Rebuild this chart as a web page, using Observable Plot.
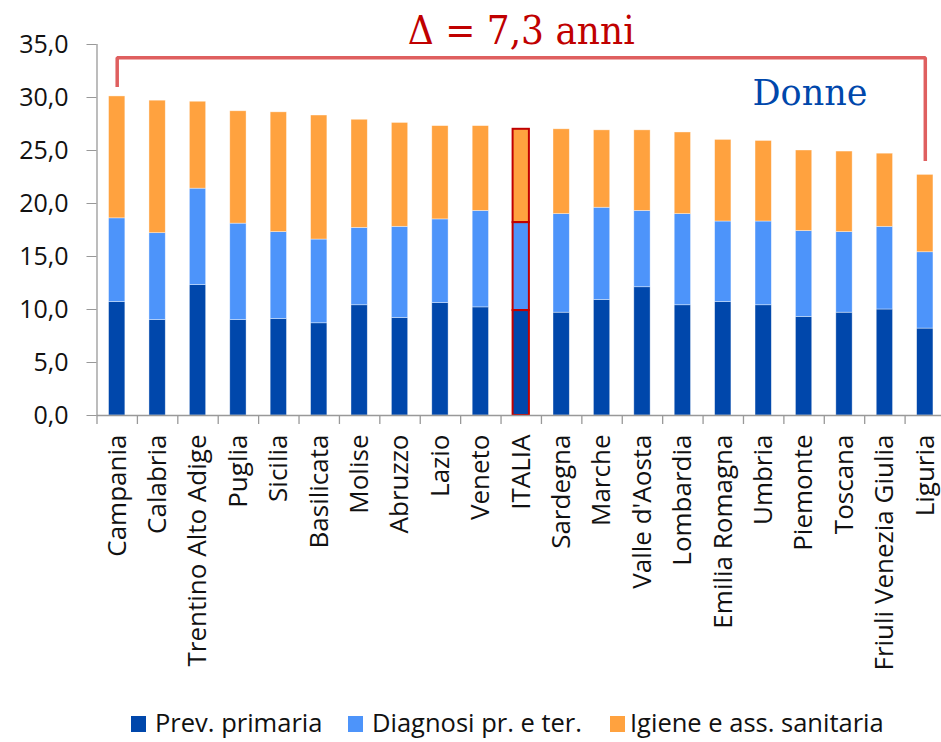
<!DOCTYPE html>
<html>
<head>
<meta charset="utf-8">
<script src="https://cdn.jsdelivr.net/npm/d3@7"></script>
<script src="https://cdn.jsdelivr.net/npm/@observablehq/plot@0.6"></script>
<style>
  html, body { margin: 0; padding: 0; background: #fff; overflow: hidden; }
  #wrap { position: relative; width: 941px; height: 742px; }
  #legend { position: absolute; left: 0; top: 0; width: 941px; height: 742px; font-family: "Open Sans", sans-serif; font-size: 25.5px; color: #111; pointer-events: none; }
  .sw { position: absolute; top: 716px; width: 15px; height: 16px; }
  .lt { position: absolute; top: 709px; line-height: 26px; white-space: nowrap; }
</style>
</head>
<body>
<div id="wrap"></div>
<script>
const regions = ["Campania","Calabria","Trentino Alto Adige","Puglia","Sicilia","Basilicata","Molise","Abruzzo","Lazio","Veneto","ITALIA","Sardegna","Marche","Valle d'Aosta","Lombardia","Emilia Romagna","Umbria","Piemonte","Toscana","Friuli Venezia Giulia","Liguria"];
const prevPrimaria = [10.7, 9.0, 12.3, 9.0, 9.1, 8.7, 10.4, 9.2, 10.6, 10.2, 9.9, 9.7, 10.9, 12.1, 10.4, 10.7, 10.4, 9.3, 9.7, 10.0, 8.2];
const diagnosi     = [7.9, 8.2, 9.1, 9.1, 8.2, 7.9, 7.3, 8.6, 7.9, 9.1, 8.3, 9.3, 8.7, 7.2, 8.6, 7.6, 7.9, 8.1, 7.6, 7.8, 7.2];
const igiene       = [11.5, 12.5, 8.2, 10.6, 11.3, 11.7, 10.2, 9.8, 8.8, 8.0, 8.8, 8.0, 7.3, 7.6, 7.7, 7.7, 7.6, 7.6, 7.6, 6.9, 7.3];
const seriesNames = ["Prev. primaria", "Diagnosi pr. e ter.", "Igiene e ass. sanitaria"];
const seriesColors = ["#0047ab", "#4d94fa", "#ffa23f"];
const yTicks = [0, 5, 10, 15, 20, 25, 30, 35];
const titleText = "Δ = 7,3 anni";
const subtitleText = "Donne";
const highlight = "ITALIA";

const values = [prevPrimaria, diagnosi, igiene];
const data = [];
regions.forEach((r, i) => {
  seriesNames.forEach((s, j) => data.push({region: r, series: s, value: values[j][i]}));
});
const totals = regions.map((r, i) => prevPrimaria[i] + diagnosi[i] + igiene[i]);
const first = regions[0], last = regions[regions.length - 1];
const bracketTop = 33.75;
const bracket = [
  {x: first, y: totals[0] + 0.9},
  {x: first, y: bracketTop},
  {x: last, y: bracketTop},
  {x: last, y: totals[totals.length - 1] + 1.3}
];

const W = 941, H = 700;
const x0 = 96.5, x1 = 945;
const bw = (x1 - x0) / regions.length;
const inset = (bw - 16.3) / 2;
const fmt = d => d.toFixed(1).replace(".", ",");

const chart = Plot.plot({
  width: W,
  height: H,
  marginLeft: x0,
  marginRight: 0,
  marginTop: 44,
  marginBottom: 285,
  style: {fontFamily: "'Open Sans', sans-serif", background: "#fff", overflow: "visible"},
  x: {domain: regions, range: [x0, x1], padding: 0, round: false},
  y: {domain: [0, 35]},
  color: {domain: seriesNames, range: seriesColors},
  marks: [
    Plot.barY(data, {
      x: "region", y: "value", z: "series", fill: "series",
      order: seriesNames,
      insetLeft: inset, insetRight: inset,
      stroke: "#ffffff", strokeOpacity: 0.55, strokeWidth: 0.7
    }),
    Plot.barY(data, {
      x: "region", y: "value", z: "series",
      order: seriesNames,
      filter: d => d.region === highlight,
      insetLeft: inset, insetRight: inset,
      fill: "none", stroke: "#c00000", strokeWidth: 2
    }),
    Plot.ruleY([0], {stroke: "#999", strokeWidth: 1.3}),
    Plot.ruleX([first], {x: d => d, dx: -bw / 2, y1: 0, y2: 35, stroke: "#999", strokeWidth: 1.3}),
    Plot.ruleX(regions, {x: d => d, dx: -bw / 2, y1: 0, y2: -0.85, stroke: "#999", strokeWidth: 1.3}),
    Plot.axisY({
      ticks: yTicks, tickFormat: fmt, tickSize: 10, tickPadding: 18.5,
      stroke: "#999", fill: "#111", fontSize: 25, label: null
    }),
    Plot.axisX({
      tickRotate: -90, tickSize: 0, tickPadding: 19,
      fill: "#111", fontSize: 26, label: null
    }),
    Plot.line(bracket, {x: "x", y: "y", stroke: "#df5f5f", strokeWidth: 3.5, strokeLinejoin: "miter", strokeLinecap: "butt"}),
    Plot.text([titleText], {
      x: () => highlight, frameAnchor: "top", lineAnchor: "bottom", dy: -1,
      text: d => d, fill: "#c00000", fontSize: 40,
      fontFamily: "'DejaVu Serif Condensed', 'DejaVu Serif', serif",
      style: {fontStretch: "condensed"}
    }),
    Plot.text([subtitleText], {
      frameAnchor: "top-right", textAnchor: "end", lineAnchor: "middle", dx: -74, dy: 49,
      text: d => d, fill: "#0047ab", fontSize: 35,
      fontFamily: "'DejaVu Serif', serif"
    })
  ]
});

const wrap = document.getElementById("wrap");
wrap.appendChild(chart);

const legend = document.createElement("div");
legend.id = "legend";
const swLeft = [131, 348, 610];
const txLeft = [155, 372, 630];
seriesNames.forEach((s, i) => {
  const sw = document.createElement("div");
  sw.className = "sw";
  sw.style.left = swLeft[i] + "px";
  sw.style.background = seriesColors[i];
  legend.appendChild(sw);
  const t = document.createElement("div");
  t.className = "lt";
  t.style.left = txLeft[i] + "px";
  t.textContent = s;
  legend.appendChild(t);
});
wrap.appendChild(legend);
</script>
</body>
</html>
